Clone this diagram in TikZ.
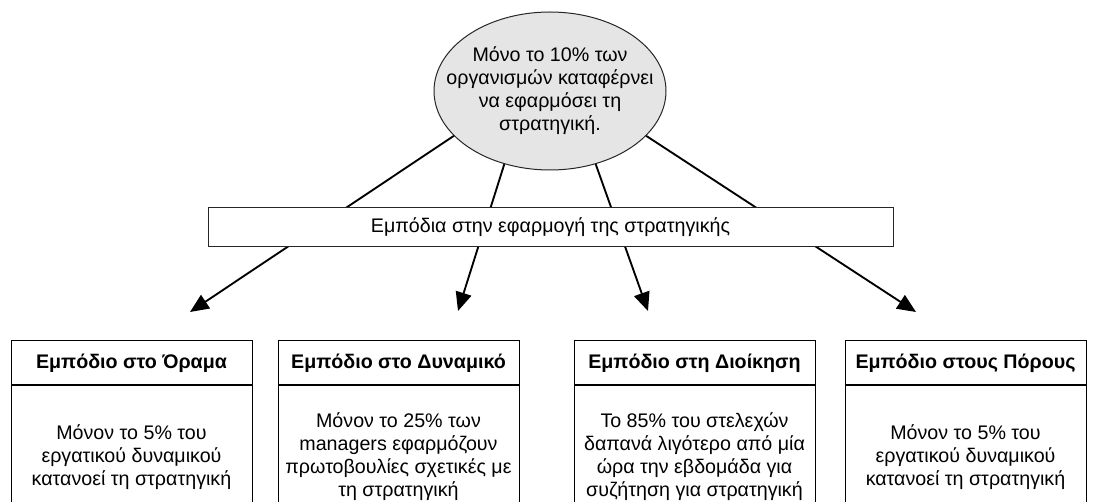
\documentclass[tikz,border=0pt]{standalone}
\usepackage{fontspec}
\setmainfont{Liberation Sans}
\usetikzlibrary{shapes.geometric,arrows.meta}

\begin{document}
\begin{tikzpicture}[x=0.75pt,y=-0.75pt,
  font=\fontsize{14.75}{17.25}\selectfont,
  goalshape/.style={ellipse,draw=black!85,fill=black!10,line width=0.75pt,
    inner xsep=-40pt,inner ysep=-20pt,minimum width=174pt,minimum height=118.5pt,
    align=center},
  barrier/.style={draw=black!85,fill=white,line width=0.75pt,inner sep=0pt,
    minimum width=513.75pt,minimum height=29.25pt},
  headbox/.style={draw=black,fill=white,line width=0.75pt,inner sep=0pt,
    minimum width=180.75pt,minimum height=33pt,
    font=\fontsize{14.75}{17.25}\selectfont\bfseries},
  bodybox/.style={draw=black,fill=white,line width=0.75pt,inner sep=0pt,
    minimum width=180.75pt,minimum height=106.5pt,align=center},
  arr/.style={line width=1.4pt,-{Triangle[length=14pt,width=12pt]}}
]
\useasboundingbox (0,0) rectangle (1100,502);
\clip (0,0) rectangle (1100,502);

% central statement
\node[goalshape] (goal) at (550,91)
  {Μόνο το 10\% των\\οργανισμών καταφέρνει\\να εφαρμόσει τη\\στρατηγική.};

% arrow tips above the four boxes
\coordinate (t1) at (190,312);
\coordinate (t2) at (458,311);
\coordinate (t3) at (648,311);
\coordinate (t4) at (916,312);

\draw[arr] (goal.205) -- (t1);
\draw[arr] (goal.238) -- (t2);
\draw[arr] (goal.302) -- (t3);
\draw[arr] (goal.335) -- (t4);

% bar laid over the arrows
\node[barrier] (bar) at (550.5,227.5) {Εμπόδια στην εφαρμογή της στρατηγικής};

% four barrier boxes: header and body
\node[headbox] (h1) at (131.5,363) {Εμπόδιο στο Όραμα};
\node[bodybox,anchor=north] (b1) at (h1.south)
  {Μόνον το 5\% του\\εργατικού δυναμικού\\κατανοεί τη στρατηγική};

\node[headbox] (h2) at (398.5,363) {Εμπόδιο στο Δυναμικό};
\node[bodybox,anchor=north] (b2) at (h2.south)
  {Μόνον το 25\% των\\managers εφαρμόζουν\\πρωτοβουλίες σχετικές με\\τη στρατηγική};

\node[headbox] (h3) at (694.5,363) {Εμπόδιο στη Διοίκηση};
\node[bodybox,anchor=north] (b3) at (h3.south)
  {Το 85\% του στελεχών\\δαπανά λιγότερο από μία\\ώρα την εβδομάδα για\\συζήτηση για στρατηγική};

\node[headbox] (h4) at (965.5,363) {Εμπόδιο στους Πόρους};
\node[bodybox,anchor=north] (b4) at (h4.south)
  {Μόνον το 5\% του\\εργατικού δυναμικού\\κατανοεί τη στρατηγική};
\end{tikzpicture}
\end{document}
